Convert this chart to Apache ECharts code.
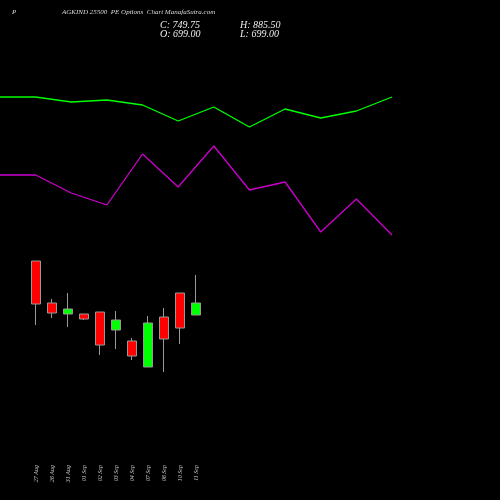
<!DOCTYPE html>
<html><head><meta charset="utf-8">
<script src="https://cdn.jsdelivr.net/npm/echarts@6/dist/echarts.min.js"></script>
<style>html,body{margin:0;background:#000}#c{width:500px;height:500px}</style>
</head><body><div id="c"></div>
<script>
const dates = ['27 Aug','28 Aug','31 Aug','01 Sep','02 Sep','03 Sep','04 Sep','07 Sep','08 Sep','10 Sep','11 Sep'];
// [open, close, low, high] in chart units
const candles = [
  [239,196,175,239],
  [197,187,182,201],
  [186,191,173,207],
  [186,181,180,186],
  [188,155,145,188],
  [170,180,151,189],
  [159,144,140,162],
  [133,177,133,184],
  [183,161,128,192],
  [207,172,156,207],
  [185,197,185,225]
];
const lineCats = ['a','b','c','d','e','f','g','h','i','j','k','l'];
const greenLine = [403,403,398,400,395,379,393,373,391,382,389,403];
const purpleLine = [325,325,307,295,346,313,354,310,318,268,301,265];
const chart = echarts.init(document.getElementById('c'));
chart.setOption({
  backgroundColor:'#000',
  animation:false,
  graphic:[
    {type:'text',left:12,top:9,style:{text:'P',fill:'#ddd',font:'italic 7px "Liberation Serif"'}},
    {type:'text',left:62,top:9,style:{text:'AGKIND 25500  PE Options  Chart ManafaSutra.com',fill:'#ddd',font:'italic 7px "Liberation Serif"'}},
    {type:'text',left:160,top:20,style:{text:'C: 749.75',fill:'#eee',font:'italic 10px "Liberation Serif"'}},
    {type:'text',left:160,top:29,style:{text:'O: 699.00',fill:'#eee',font:'italic 10px "Liberation Serif"'}},
    {type:'text',left:240,top:20,style:{text:'H: 885.50',fill:'#eee',font:'italic 10px "Liberation Serif"'}},
    {type:'text',left:240,top:29,style:{text:'L: 699.00',fill:'#eee',font:'italic 10px "Liberation Serif"'}}
  ],
  grid:[
    {left:0,top:0,width:392,height:500},
    {left:28,top:0,width:176,height:440}
  ],
  xAxis:[
    {type:'category',gridIndex:0,data:lineCats,boundaryGap:false,show:false},
    {type:'category',gridIndex:1,data:dates,axisLine:{show:false},axisTick:{show:false},
     axisLabel:{rotate:90,color:'#ccc',fontSize:6,fontFamily:'Liberation Serif',fontStyle:'italic',margin:25,interval:0}}
  ],
  yAxis:[
    {type:'value',gridIndex:0,min:0,max:500,show:false},
    {type:'value',gridIndex:1,min:60,max:500,show:false}
  ],
  series:[
    {type:'line',xAxisIndex:0,yAxisIndex:0,data:greenLine,symbol:'none',lineStyle:{color:'#00ff00',width:1.3}},
    {type:'line',xAxisIndex:0,yAxisIndex:0,data:purpleLine,symbol:'none',lineStyle:{color:'#cc00cc',width:1.3}},
    {type:'candlestick',xAxisIndex:1,yAxisIndex:1,data:candles,barWidth:9,
     itemStyle:{color:'#00ff00',color0:'#ff0000',borderColor:'#999',borderColor0:'#999',borderWidth:1}}
  ]
});
</script></body></html>
